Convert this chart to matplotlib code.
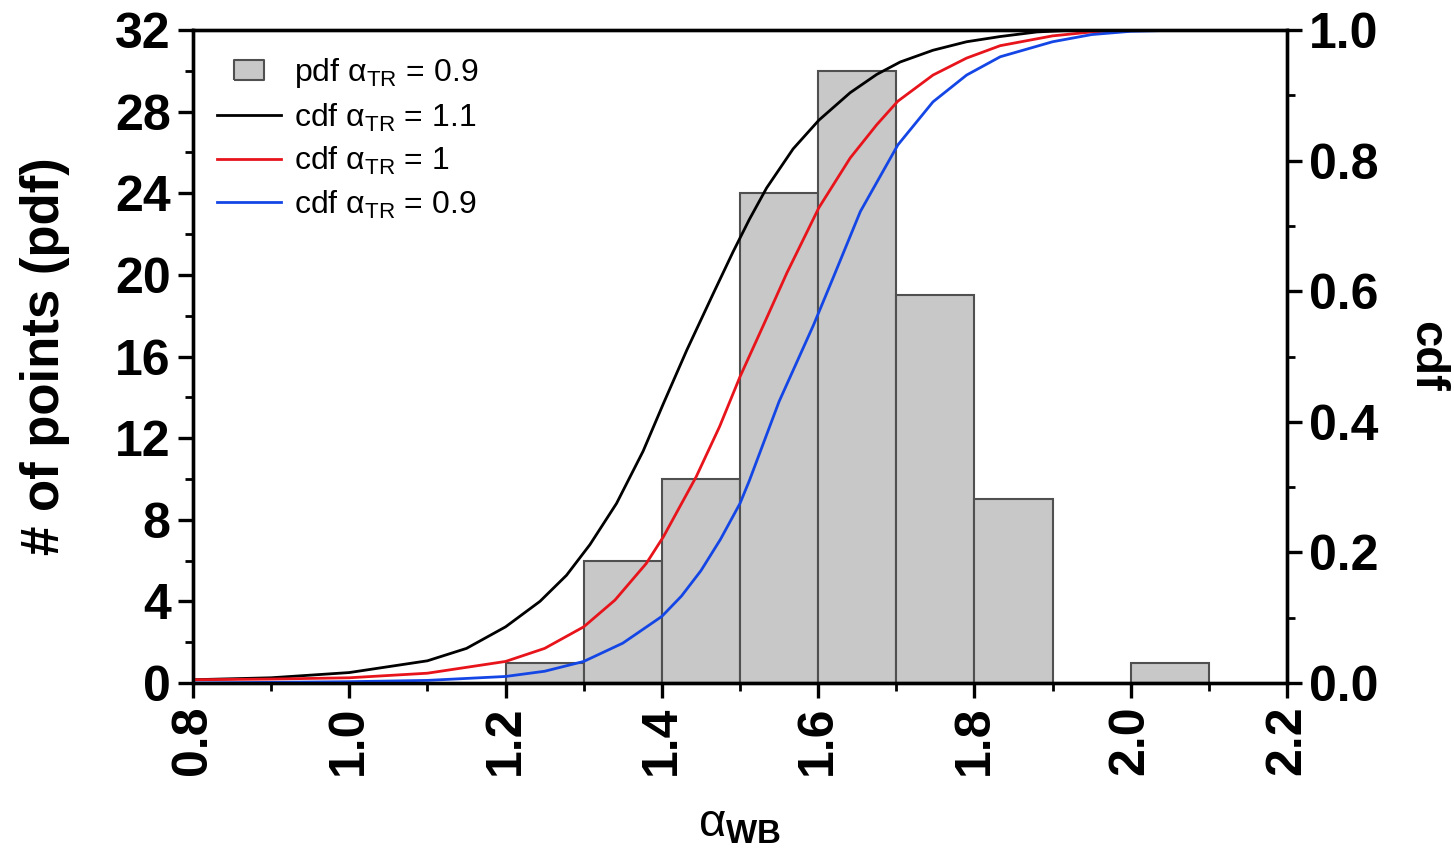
import matplotlib
matplotlib.use("Agg")
import matplotlib.pyplot as plt
from matplotlib.lines import Line2D
from matplotlib.ticker import MultipleLocator

plt.rcParams['font.family'] = ['Liberation Sans', 'DejaVu Sans']
plt.rcParams['mathtext.fontset'] = 'custom'
plt.rcParams['mathtext.rm'] = 'Liberation Sans'
plt.rcParams['mathtext.it'] = 'Liberation Sans:italic'
plt.rcParams['mathtext.bf'] = 'Liberation Sans:bold'

# ---- data ----
bin_edges_left = [1.2, 1.3, 1.4, 1.5, 1.6, 1.7, 1.8, 1.9, 2.0]
bin_width = 0.1
counts = [1, 6, 10, 24, 30, 19, 9, 0, 1]

cdf11_x = [0.8, 0.9, 1.0, 1.1, 1.15, 1.2, 1.244, 1.278, 1.308, 1.342, 1.376, 1.402,
           1.432, 1.466, 1.491, 1.512, 1.534, 1.568, 1.601, 1.641, 1.675, 1.705,
           1.747, 1.790, 1.833, 1.88, 1.93]
cdf11_y = [0.005, 0.008, 0.016, 0.034, 0.053, 0.086, 0.125, 0.165, 0.212, 0.275, 0.355,
           0.428, 0.510, 0.597, 0.660, 0.710, 0.758, 0.818, 0.862, 0.904, 0.932, 0.951,
           0.969, 0.982, 0.990, 0.997, 1.0]

cdf10_x = [0.8, 0.9, 1.0, 1.1, 1.2, 1.25, 1.3, 1.340, 1.380, 1.402, 1.444, 1.474,
           1.500, 1.530, 1.560, 1.601, 1.641, 1.675, 1.702, 1.747, 1.790, 1.833,
           1.9, 1.95, 2.0]
cdf10_y = [0.005, 0.006, 0.008, 0.015, 0.033, 0.053, 0.086, 0.127, 0.183, 0.224, 0.316,
           0.393, 0.469, 0.548, 0.628, 0.728, 0.804, 0.855, 0.891, 0.931, 0.957, 0.976,
           0.991, 0.997, 1.0]

cdf09_x = [0.8, 0.9, 1.0, 1.1, 1.2, 1.25, 1.3, 1.35, 1.4, 1.425, 1.45, 1.475, 1.5,
           1.512, 1.55, 1.594, 1.619, 1.654, 1.702, 1.747, 1.790, 1.833, 1.9, 1.95,
           2.0, 2.07]
cdf09_y = [0.0, 0.001, 0.002, 0.004, 0.010, 0.018, 0.033, 0.061, 0.102, 0.133, 0.172,
           0.22, 0.275, 0.31, 0.431, 0.548, 0.620, 0.722, 0.824, 0.890, 0.931, 0.959,
           0.982, 0.993, 0.998, 1.0]

left_ticks = [0, 4, 8, 12, 16, 20, 24, 28, 32]
right_ticks = [0.0, 0.2, 0.4, 0.6, 0.8, 1.0]
x_ticks = [0.8, 1.0, 1.2, 1.4, 1.6, 1.8, 2.0, 2.2]

BAR_FACE = '#c8c8c8'
BAR_EDGE = '#505050'
RED = '#e8141c'
BLUE = '#1446e6'

# ---- figure ----
fig = plt.figure(figsize=(14.54, 8.51), dpi=100)
ax = fig.add_axes([193/1454, (851-683)/851, (1287-193)/1454, (683-30)/851])

ax.bar(bin_edges_left, counts, width=bin_width, align='edge',
       facecolor=BAR_FACE, edgecolor=BAR_EDGE, linewidth=1.5, zorder=2)
ax.set_xlim(0.8, 2.2)
ax.set_ylim(0, 32)
ax.set_yticks(left_ticks)
ax.set_yticklabels([str(t) for t in left_ticks])
ax.yaxis.set_minor_locator(MultipleLocator(2))
ax.set_xticks(x_ticks)
ax.set_xticklabels([f"{t:.1f}" for t in x_ticks], rotation=90)
ax.xaxis.set_minor_locator(MultipleLocator(0.1))

ax2 = ax.twinx()
ax2.set_ylim(0, 1)
ax2.set_yticks(right_ticks)
ax2.set_yticklabels([f"{t:.1f}" for t in right_ticks])
ax2.yaxis.set_minor_locator(MultipleLocator(0.1))

ax2.plot(cdf11_x, cdf11_y, color='black', lw=2.0)
ax2.plot(cdf10_x, cdf10_y, color=RED, lw=2.0)
ax2.plot(cdf09_x, cdf09_y, color=BLUE, lw=2.0)

for a in (ax, ax2):
    for s in a.spines.values():
        s.set_linewidth(2.4)
    a.tick_params(which='major', direction='out', length=11, width=2.4,
                  labelsize=36, pad=5)
    a.tick_params(which='minor', direction='out', length=6, width=2.0)
    for lbl in a.get_xticklabels() + a.get_yticklabels():
        lbl.set_fontweight('bold')

ax.set_ylabel('# of points (pdf)', fontsize=38, fontweight='bold', labelpad=32)
ax2.set_ylabel('cdf', fontsize=34, fontweight='bold', rotation=270, labelpad=50)
ax.set_xlabel(r'α$_{\mathbf{WB}}$', fontsize=34, labelpad=20)

rect_marker = [(-1.5, -1.0), (1.5, -1.0), (1.5, 1.0), (-1.5, 1.0), (-1.5, -1.0)]
handles = [Line2D([], [], linestyle='None', marker=rect_marker, markersize=22,
                  markerfacecolor=BAR_FACE, markeredgecolor=BAR_EDGE,
                  markeredgewidth=1.5),
           Line2D([], [], color='black', lw=2.0),
           Line2D([], [], color=RED, lw=2.0),
           Line2D([], [], color=BLUE, lw=2.0)]
labels = [r'pdf α$_{\mathrm{TR}}$ = 0.9', r'cdf α$_{\mathrm{TR}}$ = 1.1',
          r'cdf α$_{\mathrm{TR}}$ = 1', r'cdf α$_{\mathrm{TR}}$ = 0.9']
ax2.legend(handles, labels, loc='upper left', bbox_to_anchor=(0.016, 0.97),
           frameon=False, fontsize=23, handlelength=2.0, handletextpad=0.4,
           labelspacing=0.36, borderaxespad=0.0, borderpad=0.2)

fig.savefig('out.png', dpi=100)
